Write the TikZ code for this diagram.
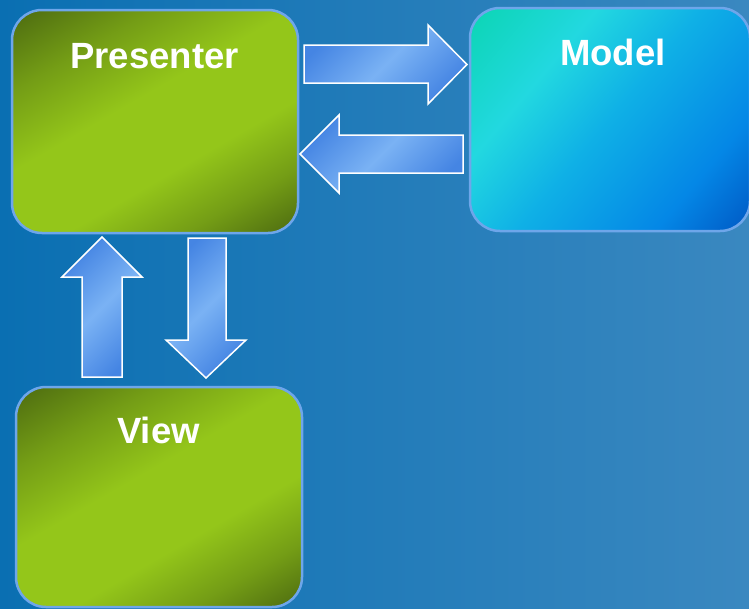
\documentclass[tikz,border=0pt]{standalone}
\usepackage{fontspec}
\setmainfont{Liberation Sans}
\definecolor{bgL}{HTML}{0A6FB2}
\definecolor{bgM}{HTML}{2277B1}
\definecolor{bgR}{HTML}{3A88C0}
\definecolor{gD}{HTML}{4C6A10}
\definecolor{gB}{HTML}{94C61A}
\colorlet{gM}{gB!55!gD}
\definecolor{mA}{HTML}{0BD5B3}
\definecolor{mB}{HTML}{22D8E0}
\definecolor{mC}{HTML}{0FB0E6}
\definecolor{mC2}{HTML}{0487E6}
\definecolor{mD}{HTML}{0058C4}
\definecolor{aD}{HTML}{4585E3}
\definecolor{aL}{HTML}{7AB2F4}
\definecolor{edge}{HTML}{6EA6EA}
\pgfdeclareverticalshading{greenbox}{100bp}{color(0bp)=(gD); color(29bp)=(gD); color(36bp)=(gM); color(43.5bp)=(gB); color(53.5bp)=(gB); color(62.25bp)=(gM); color(71bp)=(gD); color(100bp)=(gD)}
\pgfdeclareverticalshading{bluebox}{100bp}{color(0bp)=(mD); color(27.6bp)=(mD); color(36.75bp)=(mC2); color(50bp)=(mC); color(60.1bp)=(mB); color(72.4bp)=(mA); color(100bp)=(mA)}
\tikzset{
  box/.style={draw=edge, line width=2.5pt, rounded corners=30pt, inner sep=0pt},
  lbl/.style={font=\fontsize{36.5}{40}\selectfont\bfseries, text=white, inner sep=0pt, anchor=base},
  arr/.style={draw=white, line width=1.5pt, line join=miter, top color=aD, bottom color=aD, middle color=aL, shading angle=45}
}
% name, cx, cy, w, h, shading, rotation of the gradient
\newcommand\shadedbox[7]{%
  \begin{scope}
    \clip[rounded corners=30pt] (#2-#4/2,#3-#5/2) rectangle (#2+#4/2,#3+#5/2);
    \begin{scope}[transform canvas={shift={(#2,#3)}, rotate=#7}]
      \shade[shading=#6] (-200pt,-200pt) rectangle (200pt,200pt);
    \end{scope}
  \end{scope}
  \node[box, minimum width=#4pt, minimum height=#5pt] (#1) at (#2,#3) {};
}
\begin{document}
\begin{tikzpicture}[x=1pt,y=-1pt]
\useasboundingbox (0,0) rectangle (749,608);
\begin{scope}
\clip (0,0) rectangle (749,608);
\fill[left color=bgL, middle color=bgM, right color=bgR] (0,0) rectangle (749,608);
% boxes
\shadedbox{presenter}{155}{121.5}{286}{223}{greenbox}{30}
\shadedbox{model}{610}{119.5}{280}{223}{bluebox}{50}
\shadedbox{view}{159}{497}{286}{220}{greenbox}{30}
% labels
\node[lbl] (presenterT) at (154.5,68.5) {Presenter};
\node[lbl] (modelT) at (613,65) {Model};
\node[lbl] (viewT) at (158.5,443) {View};
% block arrows
\draw[arr] (304,45) -- (428,45) -- (428,25) -- (467,64.5) -- (428,104) -- (428,83) -- (304,83) -- cycle;
\draw[arr] (463,135) -- (339,135) -- (339,115) -- (300,154) -- (339,193) -- (339,173) -- (463,173) -- cycle;
\draw[arr] (82,377) -- (82,277) -- (62,277) -- (102,237) -- (142,277) -- (122,277) -- (122,377) -- cycle;
\draw[arr] (188,238) -- (226,238) -- (226,340) -- (246,340) -- (206,378) -- (166,340) -- (188,340) -- cycle;
\end{scope}
\end{tikzpicture}
\end{document}
